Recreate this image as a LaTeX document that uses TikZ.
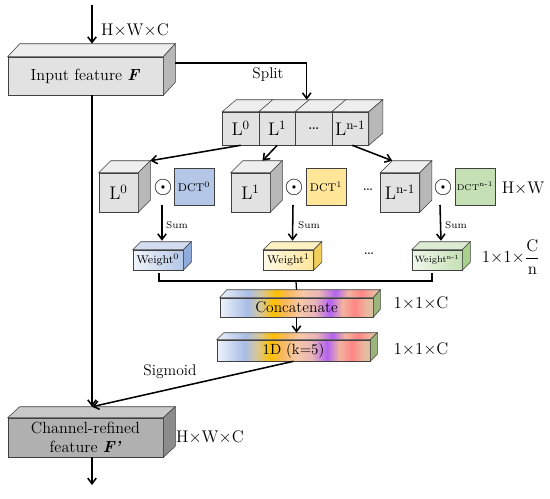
\documentclass[tikz,border=0pt]{standalone}
\usepackage{tikz}
\usepackage{xcolor}
\usetikzlibrary{arrows.meta}

\definecolor{edge}{HTML}{404040}
\definecolor{cubegray}{HTML}{E2E2E2}
\definecolor{cubetop}{HTML}{EEEEEE}
\definecolor{cubeside}{HTML}{B8B8B8}
\definecolor{refgray}{HTML}{B0B0B0}
\definecolor{reftop}{HTML}{C9C9C9}
\definecolor{refside}{HTML}{8C8C8C}
\definecolor{dctblue}{HTML}{B4C7E7}
\definecolor{dctyellow}{HTML}{FFE699}
\definecolor{dctgreen}{HTML}{C5E0B4}
\definecolor{wtblueside}{HTML}{8FAADC}
\definecolor{wtyellowside}{HTML}{F2CF5B}
\definecolor{wtgreenside}{HTML}{A9D18E}
\definecolor{sp0}{HTML}{EEF2FA}
\definecolor{sp1}{HTML}{A8BDE6}
\definecolor{sp2}{HTML}{D6C79A}
\definecolor{sp3}{HTML}{FFC000}
\definecolor{sp4}{HTML}{F7B85A}
\definecolor{sp5}{HTML}{F6C8A8}
\definecolor{sp6}{HTML}{E8B4B8}
\definecolor{sp7}{HTML}{B363F2}
\definecolor{sp8}{HTML}{F2B4A0}
\definecolor{sp9}{HTML}{FF8585}
\definecolor{sp10}{HTML}{E9B89F}
\definecolor{sp11}{HTML}{D8C0A0}
\definecolor{olive}{HTML}{9BB57A}

\pgfdeclarehorizontalshading{spectrum}{100bp}{color(0bp)=(sp0); color(25bp)=(sp0);
  color(34bp)=(sp1); color(38bp)=(sp2); color(42.5bp)=(sp3); color(46bp)=(sp4);
  color(51bp)=(sp5); color(56bp)=(sp6); color(61bp)=(sp7); color(65bp)=(sp8);
  color(69bp)=(sp9); color(73bp)=(sp10); color(75bp)=(sp11); color(100bp)=(sp11)}

% top and side faces of a box drawn on a node
\newcommand{\boxdepth}[5]{%
  \path[draw=edge, line width=0.4pt, #4] (#1.north west) -- ++(#2,#3)
    -- ([shift={(#2,#3)}]#1.north east) -- (#1.north east) -- cycle;
  \path[draw=edge, line width=0.4pt, #5] (#1.north east) -- ++(#2,#3)
    -- ([shift={(#2,#3)}]#1.south east) -- (#1.south east) -- cycle;
}

\tikzset{
  cube/.style={draw=edge, fill=cubegray, inner sep=0pt, line width=0.4pt, font=\fontsize{13}{15}\selectfont},
  dct/.style={draw=edge, inner sep=0pt, line width=0.5pt, minimum width=10mm, minimum height=9.25mm, font=\fontsize{8}{9}\selectfont},
  weight/.style={draw=edge, inner sep=0pt, line width=0.4pt, minimum width=12.5mm, minimum height=5mm, font=\fontsize{8}{9}\selectfont},
  bar/.style={draw=edge, shade, shading=spectrum, inner sep=0pt, line width=0.4pt, minimum width=38.25mm, font=\fontsize{11}{13}\selectfont},
  odot/.style={inner sep=0pt, font=\fontsize{16}{16}\selectfont},
  dimlabel/.style={font=\fontsize{12}{14}\selectfont},
  textlabel/.style={font=\fontsize{11}{13}\selectfont},
  sumlabel/.style={font=\fontsize{7}{8}\selectfont},
  flow/.style={->, line width=1.1pt}
}

\begin{document}
\begin{tikzpicture}[x=0.25mm, y=-0.25mm, >={Straight Barb[length=4pt,width=6pt]}]
\useasboundingbox (0,0) rectangle (550,498);

% input feature
\node[cube, minimum width=38.75mm, minimum height=9.5mm, font=\fontsize{11.5}{13}\selectfont] (inp) at (85.5,76) {Input feature \textbf{\textit{F}}};
\boxdepth{inp}{12}{-13}{fill=cubetop}{fill=cubeside}

% split block
\node[cube, minimum width=9.125mm, minimum height=8.25mm] (spl0) at (240.75,128.5) {L$^0$};
\boxdepth{spl0}{14}{-12}{fill=cubetop}{fill=cubeside}
\node[cube, minimum width=9.125mm, minimum height=8.25mm] (spl1) at (277.25,128.5) {L$^1$};
\boxdepth{spl1}{14}{-12}{fill=cubetop}{fill=cubeside}
\node[cube, minimum width=9.125mm, minimum height=8.25mm] (spl2) at (313.75,128.5) {\dots};
\boxdepth{spl2}{14}{-12}{fill=cubetop}{fill=cubeside}
\node[cube, minimum width=9.125mm, minimum height=8.25mm] (spl3) at (350.25,128.5) {L\textsuperscript{n-1}};
\boxdepth{spl3}{14}{-12}{fill=cubetop}{fill=cubeside}

% sub-features and DCT bases
\node[cube, minimum width=9.75mm, minimum height=9.75mm] (mid0) at (118.5,192.5) {L$^0$};
\boxdepth{mid0}{12}{-12}{fill=cubetop}{fill=cubeside}
\node[cube, minimum width=9.75mm, minimum height=9.75mm] (mid1) at (250.5,192.5) {L$^1$};
\boxdepth{mid1}{12}{-12}{fill=cubetop}{fill=cubeside}
\node[cube, minimum width=9.75mm, minimum height=9.75mm] (mid2) at (400,192.5) {L\textsuperscript{n-1}};
\boxdepth{mid2}{12}{-12}{fill=cubetop}{fill=cubeside}

\node[odot] (od0) at (163,187) {$\odot$};
\node[odot] (od1) at (294,187) {$\odot$};
\node[odot] (od2) at (443,187) {$\odot$};

\node[dct, fill=dctblue] (dct0) at (194,186.5) {DCT$^0$};
\node[dct, fill=dctyellow] (dct1) at (326,186.5) {DCT$^1$};
\node[dct, fill=dctgreen, font=\fontsize{6}{7}\selectfont] (dct2) at (475,186.5) {DCT\textsuperscript{n-1}};

% weights
\node[weight, left color=dctblue!20!white, right color=dctblue] (wt0) at (158,260) {Weight$^0$};
\boxdepth{wt0}{8}{-8}{fill=dctblue!60!white}{fill=wtblueside}
\node[weight, left color=dctyellow!25!white, right color=dctyellow] (wt1) at (288.5,260) {Weight$^1$};
\boxdepth{wt1}{8}{-8}{fill=dctyellow!60!white}{fill=wtyellowside}
\node[weight, left color=dctgreen!25!white, right color=dctgreen, font=\fontsize{6.5}{7}\selectfont] (wt2) at (437,260) {Weight\textsuperscript{n-1}};
\boxdepth{wt2}{8}{-8}{fill=dctgreen!60!white}{fill=wtgreenside}

% concatenate and 1D conv
\node[bar, minimum height=4.75mm] (concat) at (296.5,307.5) {Concatenate};
\boxdepth{concat}{7}{-8}{shade, shading=spectrum}{fill=olive}
\node[bar, minimum height=5.25mm, font=\fontsize{10.5}{12}\selectfont] (conv) at (293.5,350.5) {1D (k=5)};
\boxdepth{conv}{7}{-7}{shade, shading=spectrum}{fill=olive}

% output feature
\node[cube, fill=refgray, align=center, minimum width=38.75mm, minimum height=9.75mm, font=\fontsize{11.5}{13}\selectfont] (refined) at (85.5,437.5) {Channel-refined\\feature \textbf{\textit{F'}}};
\boxdepth{refined}{12}{-11}{fill=reftop}{fill=refside}

% labels
\node[dimlabel] (dimin) at (135,30) {H$\times$W$\times$C};
\node[textlabel] (split) at (268,75) {Split};
\node[dimlabel] (dimhw) at (523,188) {H$\times$W};
\node[sumlabel] (sum0) at (177,225) {Sum};
\node[sumlabel] (sum1) at (309,225) {Sum};
\node[sumlabel] (sum2) at (456,225) {Sum};
\node[font=\fontsize{12}{14}\selectfont] (dots1) at (368,190) {\dots};
\node[font=\fontsize{12}{14}\selectfont] (dots2) at (369,254) {\dots};
\node[dimlabel, inner sep=0pt] (dimw) at (511,257) {1$\times$1$\times$$\displaystyle\frac{\mathrm{C}}{\mathrm{n}}$};
\node[dimlabel] (dimc1) at (421,303) {1$\times$1$\times$C};
\node[dimlabel] (dimc2) at (421,349) {1$\times$1$\times$C};
\node[textlabel] (sig) at (170,372) {Sigmoid};
\node[dimlabel] (dimout) at (210,437) {H$\times$W$\times$C};

% connectors
\coordinate (src) at (92,5);
\coordinate (sink) at (92,485);
\coordinate (join) at (296,281);

\draw[flow] (src) -- ([shift={(6.5,-13)}]inp.north);
\draw[flow] ([shift={(12,-13)}]inp.east) -| ([shift={(11.5,-12)}]spl2.north west);
\draw[flow] ([shift={(6.5,0)}]inp.south) -- ([shift={(6.5,-11)}]refined.north);
\draw[flow] (spl0.south) -- ([shift={(12,-12)}]mid0.north east);
\draw[flow] (spl1.south) -- ([shift={(12,-12)}]mid1.north);
\draw[flow] ([shift={(2,0)}]spl3.south) -- ([shift={(12,-12)}]mid2.north west);
\draw[flow] ([shift={(-1,18)}]od0.center) -- ([shift={(4,-9)}]wt0.north);
\draw[flow] ([shift={(-1,18)}]od1.center) -- ([shift={(4,-9)}]wt1.north);
\draw[flow] ([shift={(-3,18)}]od2.center) -- ([shift={(4,-9)}]wt2.north);
\draw[line width=0.9pt] ([shift={(1,3)}]wt0.south) |- (join) -| ([shift={(-5,3)}]wt2.south);
\draw[line width=0.9pt] (join) -- ([shift={(0,-8)}]concat.north);
\draw[flow] (concat.south) -- ([shift={(3,-7)}]conv.north);
\draw[flow] (conv.south) -- ([shift={(6.5,-11)}]refined.north);
\draw[flow] ([shift={(6.5,0)}]refined.south) -- (sink);

\end{tikzpicture}
\end{document}
